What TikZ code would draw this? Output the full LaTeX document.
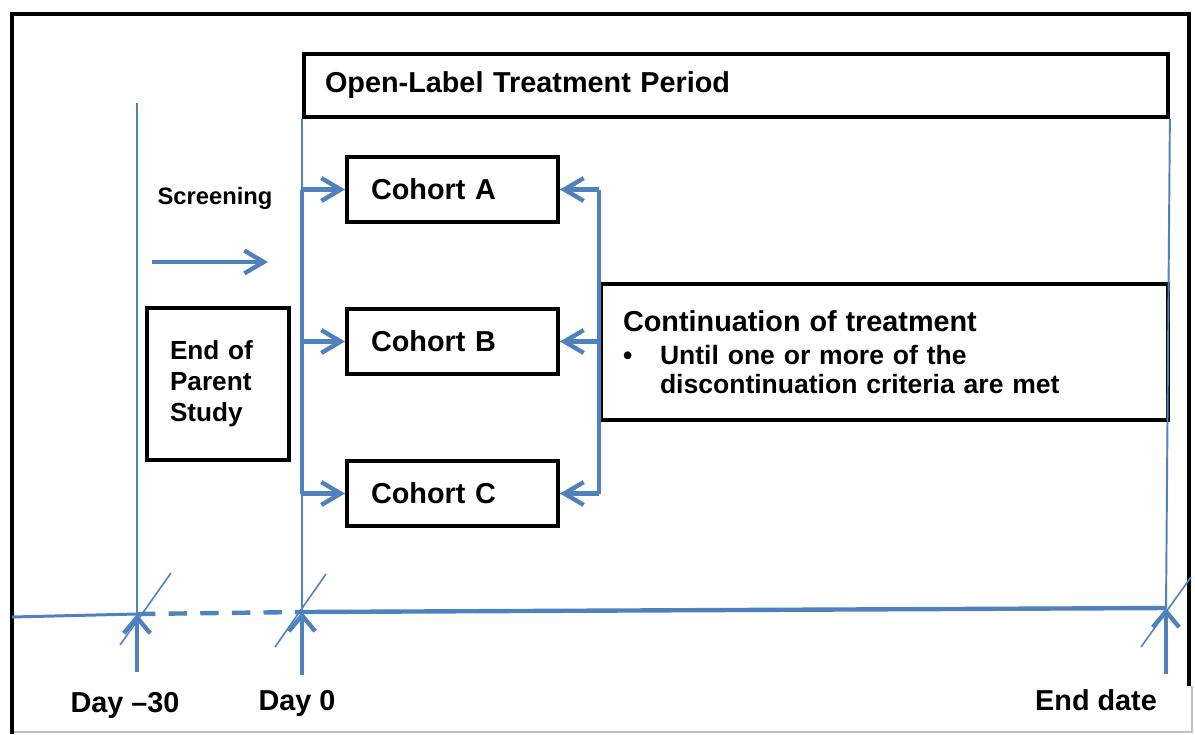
\documentclass[tikz,border=0pt]{standalone}
\usepackage{fontspec}
\setmainfont{Liberation Sans}
\usepackage{tikz}
\usetikzlibrary{arrows.meta,calc}
\definecolor{tlblue}{RGB}{79,129,189}
\tikzset{
    box/.style={draw, fill=white, line width=2.3pt, anchor=north west, align=left,
        font=\bfseries\fontsize{16.4}{19}\selectfont},
    cohort/.style={box, text width=3.26cm, inner xsep=0.48cm, minimum height=1.3cm},
    thinline/.style={tlblue, line width=1.1pt},
    midline/.style={tlblue, line width=1.7pt},
    thickline/.style={tlblue, line width=2.5pt},
    slash/.style={tlblue, line width=0.9pt},
    daylabel/.style={anchor=base, font=\bfseries\fontsize{16.4}{19}\selectfont},
    armhead/.style={-{Straight Barb[length=11pt,width=13pt]}},
    tickhead/.style={-{Straight Barb[length=9pt,width=15pt]}},
}

\begin{document}
\begin{tikzpicture}[x=0.02cm, y=-0.02cm]
    \useasboundingbox (0,0) rectangle (1195,734);
    % frame
    \draw[line width=2.8pt] (12,734) -- (12,14) -- (1189,14) -- (1189,686);
    \draw[gray!50, line width=0.6pt] (14,732) -- (1192,732) -- (1192,686);

    % boxes
    \node[box, text width=16.44cm, inner xsep=0.42cm, minimum height=1.26cm] (olt) at (302,52) {Open-Label Treatment Period};
    \node[cohort] (cohA) at (345,155) {Cohort A};
    \node[cohort] (cohB) at (345,307) {Cohort B};
    \node[cohort] (cohC) at (345,459) {Cohort C};
    \node[box, text width=1.92cm, inner xsep=0.46cm, minimum height=3.04cm,
        font=\bfseries\fontsize{14.9}{17.6}\selectfont] (eps) at (145,306) {End of\\Parent\\Study};
    \node[box, text width=10.46cm, inner xsep=0.44cm, minimum height=2.72cm,
        font=\bfseries\fontsize{15.1}{16.4}\selectfont] (cont) at (599,282)
        {{\fontsize{16.4}{18}\selectfont Continuation of treatment}\\[2.3pt]
         \makebox[0.74cm][l]{\textbullet}Until one or more of the\\
         \hspace*{0.74cm}discontinuation criteria are met};
    \node[anchor=base, font=\bfseries\fontsize{13.5}{16}\selectfont] (scr) at (215,204) {Screening};

    % timeline
    \coordinate (tl) at (12,617);
    \coordinate (m30) at (137,614);
    \coordinate (d0) at (302,612);
    \coordinate (ed) at (1166,608);
    \coordinate (m30top) at (137,103);
    \coordinate (m30b) at (137,672);
    \coordinate (d0b) at (302,675);
    \coordinate (edb) at (1166,674);
    \coordinate (scrA) at (152,262);
    \coordinate (scrB) at (268,262);

    \draw[thinline] (m30top) -- (m30);
    \draw[midline] (olt.south west) -- (d0);
    \draw[thinline] (olt.south east) -- (ed);
    \draw[midline] (tl) -- (m30);
    \draw[thickline, dash pattern=on 10.5pt off 7.5pt] (m30) -- (d0);
    \draw[thickline] (d0) -- (ed);

    \draw[slash] (m30) ++(-17,31) -- ++(51,-72);
    \draw[slash] (d0) ++(-27,35) -- ++(51,-73);
    \draw[slash] (ed) ++(-25,39) -- ++(50,-70);

    \draw[thickline, tickhead] (m30b) -- (m30);
    \draw[thickline, tickhead] (d0b) -- (d0);
    \draw[thickline, tickhead] (edb) -- (ed);

    % cohort arrows
    \draw[thickline] (cohA.west -| d0) -- (cohC.west -| d0);
    \draw[thickline] (cohA.east -| cont.west) -- (cohC.east -| cont.west);
    \foreach \c in {cohA,cohB,cohC}{
        \draw[thickline, armhead] (\c.west -| d0) -- (\c.west);
        \draw[thickline, armhead] (\c.east -| cont.west) -- (\c.east);
    }
    \draw[thickline, armhead] (scrA) -- (scrB);

    \node[daylabel] (lm30) at (125,712) {Day –30};
    \node[daylabel] (ld0) at (297,710) {Day 0};
    \node[daylabel] (led) at (1096,710) {End date};
\end{tikzpicture}
\end{document}
